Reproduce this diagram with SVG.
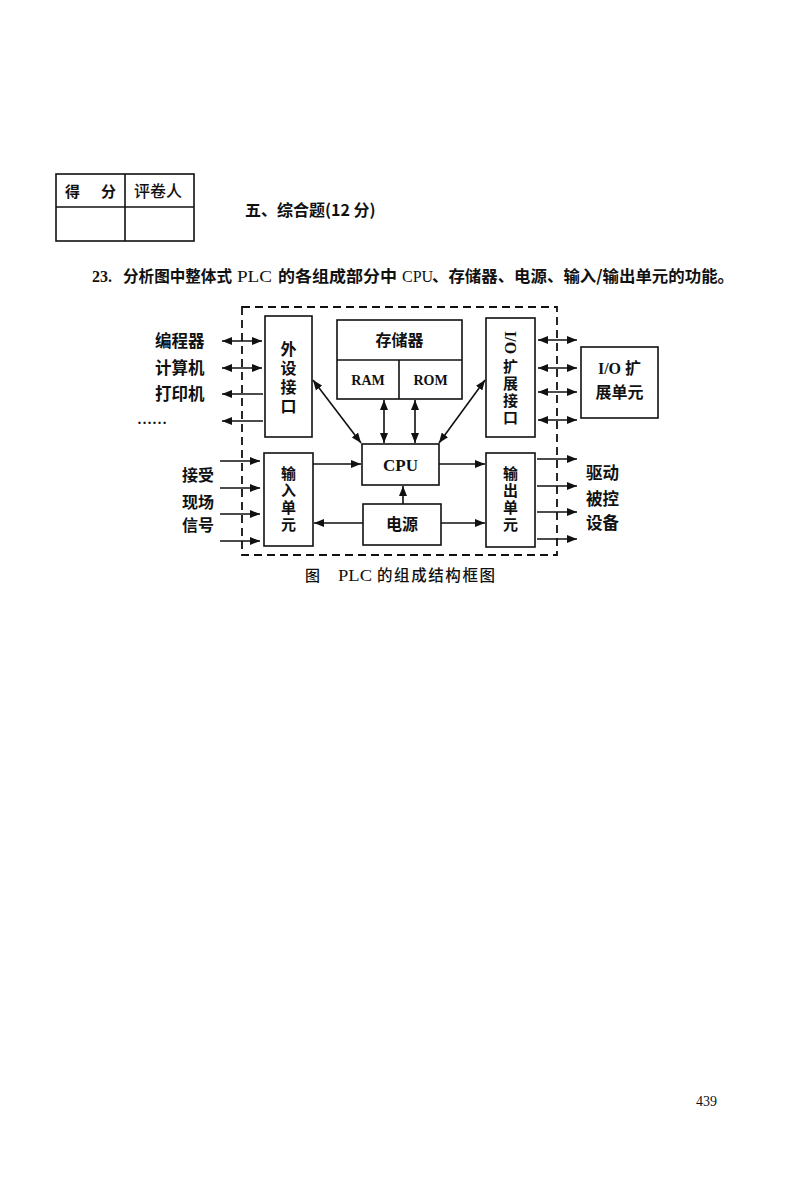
<svg xmlns="http://www.w3.org/2000/svg" width="795" height="1199" viewBox="0 0 795 1199">
<defs>
<marker id="ah" viewBox="0 0 10 8" refX="10" refY="4" markerWidth="10" markerHeight="8" markerUnits="userSpaceOnUse" orient="auto-start-reverse">
<path d="M0,0 L10,4 L0,8 Z" fill="#111"/>
</marker>
<style>
.box{fill:#fff;stroke:#111;stroke-width:1.6}
.ln{fill:none;stroke:#111;stroke-width:1.6}
.a1{fill:none;stroke:#111;stroke-width:1.6;marker-end:url(#ah)}
.a2{fill:none;stroke:#111;stroke-width:1.6;marker-end:url(#ah);marker-start:url(#ah)}
.cj{font-family:"Noto Sans CJK SC",sans-serif;font-weight:bold;fill:#111}
.cm{font-family:"Noto Sans CJK SC",sans-serif;font-weight:500;fill:#111}
.lt{font-family:"Liberation Serif","Noto Sans CJK SC",serif;font-weight:bold;fill:#111}
.q{font-family:"Liberation Serif","Noto Sans CJK SC",serif;fill:#111}
.vt{writing-mode:vertical-rl;font-weight:bold;fill:#111}
</style>
</defs>
<rect width="795" height="1199" fill="#fff"/>

<g id="score-table">
<rect x="56" y="174" width="138" height="67" class="ln"/>
<line x1="56" y1="207" x2="194" y2="207" class="ln"/>
<line x1="125" y1="174" x2="125" y2="241" class="ln"/>
<text x="65" y="197" class="cj" font-size="15">得</text>
<text x="101" y="197" class="cj" font-size="15">分</text>
<text x="158" y="197" class="cm" font-size="16" text-anchor="middle">评卷人</text>
</g>

<text id="section" x="245" y="216" class="cj" font-size="16">五、综合题(12 分)</text>

<g id="question">
<text x="92" y="282" class="lt" font-size="16">23.</text>
<text x="123" y="282" class="cj" font-size="16" textLength="109" lengthAdjust="spacingAndGlyphs">分析图中整体式</text>
<text x="237" y="282" class="q" font-size="17" textLength="35" lengthAdjust="spacingAndGlyphs">PLC</text>
<text x="278" y="282" class="cj" font-size="16" textLength="119" lengthAdjust="spacingAndGlyphs">的各组成部分中</text>
<text x="402" y="282" class="q" font-size="16">CPU</text>
<text x="432" y="282" class="cj" font-size="16" textLength="302" lengthAdjust="spacingAndGlyphs">、存储器、电源、输入/输出单元的功能。</text>
</g>

<g id="plc-boundary">
<rect x="242" y="307" width="315" height="248" fill="none" stroke="#111" stroke-width="1.8" stroke-dasharray="8,5"/>
</g>

<g id="peripheral-interface">
<rect x="265" y="316" width="47" height="121" class="box"/>
<text x="288.5" y="341" class="vt" font-family="Noto Sans CJK SC, sans-serif" font-size="16" letter-spacing="3">外设接口</text>
</g>

<g id="memory">
<rect x="337" y="320" width="125" height="79" class="box"/>
<line x1="337" y1="360" x2="462" y2="360" class="ln"/>
<line x1="399" y1="360" x2="399" y2="399" class="ln"/>
<text x="399.5" y="346" class="cj" font-size="16" text-anchor="middle">存储器</text>
<text x="368" y="385" class="lt" font-size="14" text-anchor="middle">RAM</text>
<text x="430.5" y="385" class="lt" font-size="14" text-anchor="middle">ROM</text>
</g>

<g id="io-expansion-interface">
<rect x="486" y="318" width="49" height="119" class="box"/>
<text x="510.5" y="331" class="vt" font-family="Liberation Serif, Noto Sans CJK SC, serif" font-size="16"><tspan>I/O</tspan><tspan font-family="Noto Sans CJK SC, sans-serif" font-size="15" letter-spacing="2" dy="5">扩展接口</tspan></text>
</g>

<g id="io-expansion-unit">
<rect x="581" y="347" width="77" height="71" class="box"/>
<text x="619.5" y="374" class="lt" font-size="16" text-anchor="middle">I/O <tspan class="cj">扩</tspan></text>
<text x="619.5" y="398" class="cj" font-size="16" text-anchor="middle">展单元</text>
</g>

<g id="cpu">
<rect x="362" y="444" width="77" height="41" class="box"/>
<text x="400.5" y="471" class="lt" font-size="17" text-anchor="middle">CPU</text>
</g>

<g id="power">
<rect x="363" y="504" width="78" height="41" class="box"/>
<text x="402" y="530" class="cj" font-size="16" text-anchor="middle">电源</text>
</g>

<g id="input-unit">
<rect x="264" y="453" width="49" height="93" class="box"/>
<text x="288.5" y="466" class="vt" font-family="Noto Sans CJK SC, sans-serif" font-size="15" letter-spacing="2">输入单元</text>
</g>

<g id="output-unit">
<rect x="486" y="453" width="49" height="94" class="box"/>
<text x="510.5" y="466" class="vt" font-family="Noto Sans CJK SC, sans-serif" font-size="15" letter-spacing="2">输出单元</text>
</g>

<g id="labels">
<text x="155" y="347" class="cj" font-size="16.5">编程器</text>
<text x="155" y="374" class="cj" font-size="16.5">计算机</text>
<text x="155" y="400" class="cj" font-size="16.5">打印机</text>
<text x="137" y="424" class="lt" font-size="15">……</text>
<text x="182" y="481" class="cj" font-size="16">接受</text>
<text x="182" y="508" class="cj" font-size="16">现场</text>
<text x="182" y="531" class="cj" font-size="16">信号</text>
<text x="586" y="479" class="cj" font-size="16.5">驱动</text>
<text x="586" y="505" class="cj" font-size="16.5">被控</text>
<text x="586" y="529" class="cj" font-size="16.5">设备</text>
</g>

<g id="connectors">
<line x1="222" y1="341" x2="262" y2="341" class="a2"/>
<line x1="222" y1="368" x2="262" y2="368" class="a2"/>
<line x1="263" y1="394" x2="222" y2="394" class="a1"/>
<line x1="263" y1="421" x2="222" y2="421" class="a1"/>
<line x1="313" y1="380" x2="361" y2="443" class="a2"/>
<line x1="384" y1="400" x2="384" y2="443" class="a2"/>
<line x1="415" y1="400" x2="415" y2="443" class="a2"/>
<line x1="485" y1="380" x2="439" y2="443" class="a2"/>
<line x1="538" y1="340" x2="577" y2="340" class="a2"/>
<line x1="538" y1="368" x2="577" y2="368" class="a2"/>
<line x1="538" y1="392" x2="577" y2="392" class="a2"/>
<line x1="538" y1="420" x2="577" y2="420" class="a2"/>
<line x1="220" y1="461" x2="260" y2="461" class="a1"/>
<line x1="220" y1="488" x2="260" y2="488" class="a1"/>
<line x1="220" y1="514" x2="260" y2="514" class="a1"/>
<line x1="220" y1="541" x2="260" y2="541" class="a1"/>
<line x1="313" y1="464" x2="361" y2="464" class="a1"/>
<line x1="439" y1="464" x2="485" y2="464" class="a1"/>
<line x1="363" y1="523" x2="314" y2="523" class="a1"/>
<line x1="441" y1="523" x2="485" y2="523" class="a1"/>
<line x1="403" y1="504" x2="403" y2="486" class="a1"/>
<line x1="537" y1="459" x2="577" y2="459" class="a1"/>
<line x1="537" y1="486" x2="577" y2="486" class="a1"/>
<line x1="537" y1="512" x2="577" y2="512" class="a1"/>
<line x1="537" y1="539" x2="577" y2="539" class="a1"/>
</g>

<g id="caption">
<text x="305" y="581" class="cm" font-size="15">图</text>
<text x="338" y="581" class="q" font-size="16" textLength="34" lengthAdjust="spacingAndGlyphs">PLC</text>
<text x="377" y="581" class="cm" font-size="15.5" textLength="118" lengthAdjust="spacing">的组成结构框图</text>
</g>
<text id="page-number" x="696" y="1106" class="q" font-size="14">439</text>
</svg>
